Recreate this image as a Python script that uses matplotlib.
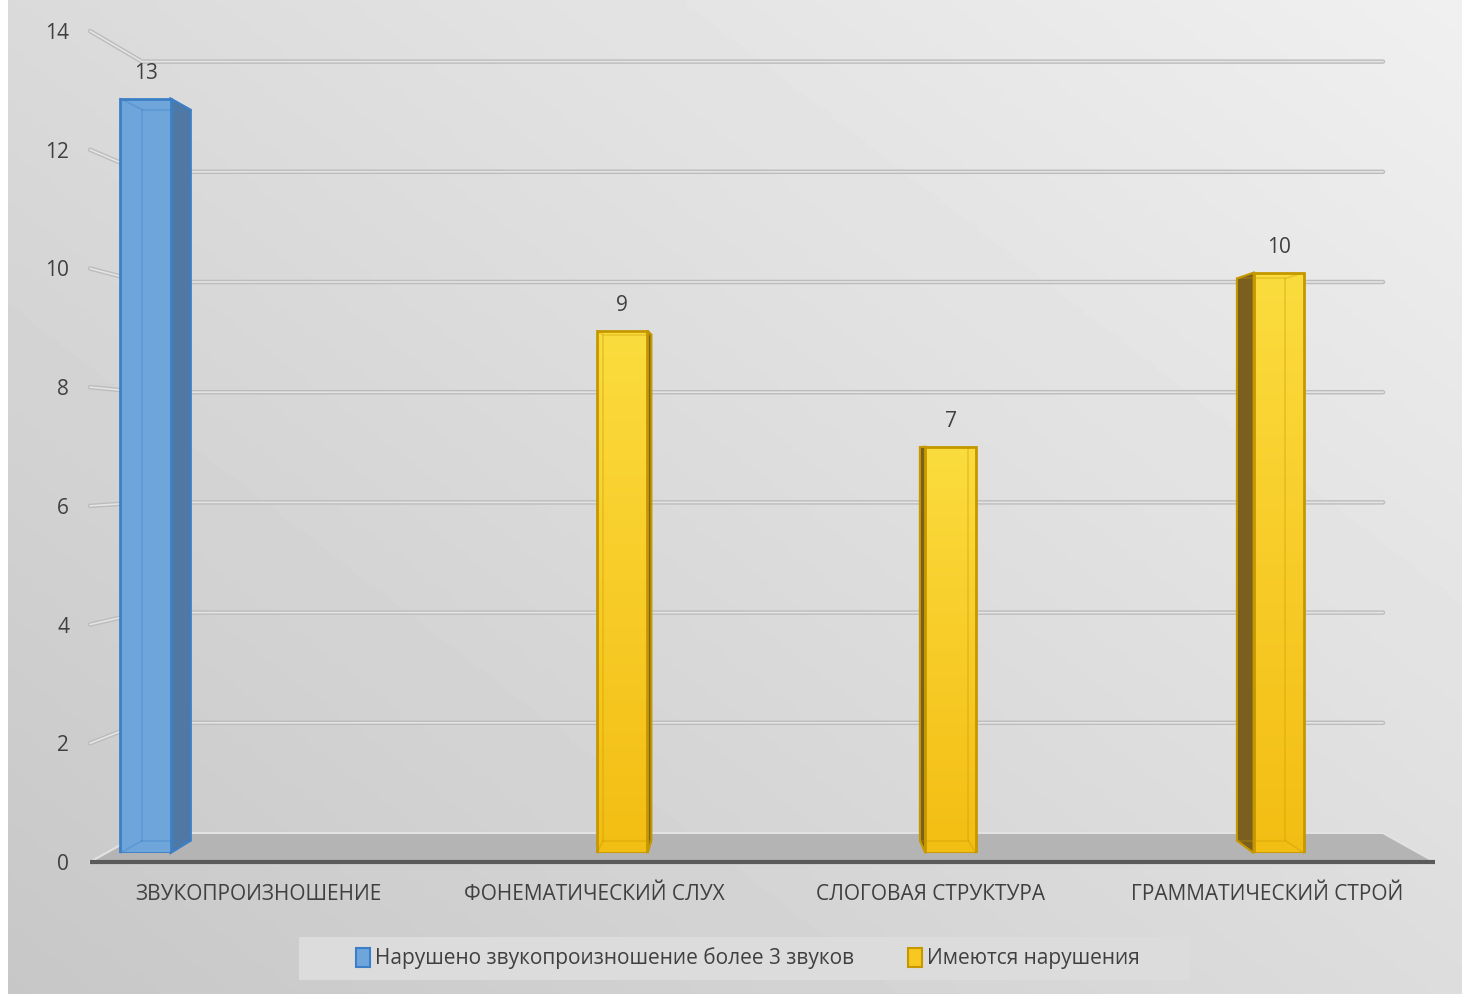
import numpy as np
import matplotlib.pyplot as plt
from matplotlib.patches import Polygon, Rectangle, Patch
from matplotlib.colors import LinearSegmentedColormap

# data
categories = ['ЗВУКОПРОИЗНОШЕНИЕ', 'ФОНЕМАТИЧЕСКИЙ СЛУХ', 'СЛОГОВАЯ СТРУКТУРА', 'ГРАММАТИЧЕСКИЙ СТРОЙ']
series_names = ['Нарушено звукопроизношение более 3 звуков', 'Имеются нарушения']
blue_values = [13, np.nan, np.nan, np.nan]
yellow_values = [np.nan, 9, 7, 10]
y_ticks = [0, 2, 4, 6, 8, 10, 12, 14]

plt.rcParams['font.family'] = ['Open Sans', 'DejaVu Sans']

W, H, DPI = 1462, 994, 100
fig = plt.figure(figsize=(W / DPI, H / DPI), dpi=DPI, facecolor='white')

# background gradient (light top-right, darker bottom-left)
bg = fig.add_axes([8 / W, 0, 1 - 8 / W, 1], zorder=0)
gx, gy = np.meshgrid(np.linspace(0, 1, 300), np.linspace(0, 1, 300))
shade = 0.855 + 0.085 * gx - 0.075 * gy
bg.imshow(shade, cmap='gray', vmin=0, vmax=1, extent=[0, 1, 0, 1], aspect='auto', origin='upper')
bg.axis('off')

# perspective planes: front (z=0) and back wall (z=1), in pixel layout
FRONT = (90, 1435, 862, 31)
BACK = (142, 1383, 833, 61.6)
Z0, Z1 = 0.31, 0.74      # bar front / back depth
BAR_W = 0.153
OFFSETS = [-0.38, 0.073]


def plane(z, zorder):
    x0, x1, y0, y14 = [f + z * (b - f) for f, b in zip(FRONT, BACK)]
    ax = fig.add_axes([x0 / W, 1 - y0 / H, (x1 - x0) / W, (y0 - y14) / H], zorder=zorder)
    ax.set_xlim(-0.5, 3.5)
    ax.set_ylim(0, 14)
    ax.patch.set_visible(False)
    for s in ax.spines.values():
        s.set_visible(False)
    return ax


axb = plane(1.0, 1)
axb.set_xticks([])
axb.set_yticks([])

lay = fig.add_axes([0, 0, 1, 1], zorder=2)
lay.set_xlim(0, W)
lay.set_ylim(0, H)
lay.axis('off')
lay.patch.set_visible(False)

axm = plane(Z0, 3)
axm.set_xticks([])
axm.set_yticks([])

lay2 = fig.add_axes([0, 0, 1, 1], zorder=3.5)
lay2.set_xlim(0, W)
lay2.set_ylim(0, H)
lay2.axis('off')
lay2.patch.set_visible(False)

axf = plane(0.0, 4)


def P(x, y, z):
    pf = axf.transData.transform((x, y))
    pb = axb.transData.transform((x, y))
    return lay.transData.inverted().transform((1 - z) * pf + z * pb)


# floor
floor = [P(-0.5, 0, 0), P(3.5, 0, 0), P(3.5, 0, 1), P(-0.5, 0, 1)]
lay.add_patch(Polygon(floor, closed=True, facecolor='#b4b4b4', edgecolor='none', zorder=1))
for a, b in [(floor[0], floor[3]), (floor[3], floor[2]), (floor[2], floor[1])]:
    lay.plot([a[0], b[0]], [a[1], b[1]], color='#e2e2e2', lw=1.5, solid_capstyle='round', zorder=1.5)

# gridlines: side-wall connectors and back-wall lines
for t in y_ticks[1:]:
    pts = np.array([P(-0.5, t, 0), P(-0.5, t, 1), P(3.5, t, 1)])
    lay.plot(pts[:, 0], pts[:, 1], color='#bcbcbc', lw=3.2, solid_capstyle='round',
             solid_joinstyle='round', zorder=2)
    lay.plot(pts[:, 0], pts[:, 1], color='#e4e4e4', lw=1.2, solid_capstyle='round',
             solid_joinstyle='round', zorder=2.1)

# front floor edge
axf.plot([-0.5, 3.5], [0, 0], color='#5a5a5a', lw=3, clip_on=False, solid_capstyle='butt')

yellow_cmap = LinearSegmentedColormap.from_list('yel', ['#f3be14', '#f8cc28', '#fbdc3e'])
styles = [
    dict(face='#6ea6db', edge='#3d7fc6', side='#4f78a3', cmap=None),
    dict(face='#f7c820', edge='#c59800', side='#7a5f1e', cmap=yellow_cmap),
]

for values, off, st in zip([blue_values, yellow_values], OFFSETS, styles):
    for i, v in enumerate(values):
        if np.isnan(v):
            continue
        xc = i + off
        x0, x1 = xc - BAR_W / 2, xc + BAR_W / 2
        # visible side face
        if P(x1, v, Z1)[0] > P(x1, v, Z0)[0]:
            xs = x1
        else:
            xs = x0
        side = [P(xs, 0, Z0), P(xs, v, Z0), P(xs, v, Z1), P(xs, 0, Z1)]
        lay.add_patch(Polygon(side, closed=True, facecolor=st['side'], edgecolor=st['edge'],
                              lw=1.5, zorder=5))
        # front face
        bars = axm.bar(xc, v, width=BAR_W, color=st['face'], edgecolor='none', zorder=1)
        if st['cmap'] is not None:
            grad = np.linspace(0, 1, 100).reshape(-1, 1)
            im = axm.imshow(grad, cmap=st['cmap'], extent=[x0, x1, 0, v], origin='lower',
                            aspect='auto', zorder=2)
            im.set_clip_path(bars[0])
        axm.bar(xc, v, width=BAR_W, facecolor='none', edgecolor=st['edge'], lw=2, zorder=3)
        # see-through back edges
        back = np.array([P(x0, 0, Z1), P(x0, v, Z1), P(x1, v, Z1), P(x1, 0, Z1), P(x0, 0, Z1)])
        lay2.plot(back[:, 0], back[:, 1], color=st['edge'], lw=1.2, alpha=0.35)
        for xx in (x0, x1):
            for yy in (0, v):
                a, b = P(xx, yy, Z0), P(xx, yy, Z1)
                lay2.plot([a[0], b[0]], [a[1], b[1]], color=st['edge'], lw=1.2, alpha=0.35)
        axm.annotate(f'{v:g}', (xc, v), xytext=(0, 18), textcoords='offset points',
                     ha='center', va='center', fontsize=15, color='#404040')

axm.set_xlim(-0.5, 3.5)
axm.set_ylim(0, 14)
axf.set_xlim(-0.5, 3.5)
axf.set_ylim(0, 14)

# axis labels on the front plane
axf.set_yticks(y_ticks)
axf.set_yticklabels([str(t) for t in y_ticks])
axf.set_xticks(range(len(categories)))
axf.set_xticklabels(categories)
axf.tick_params(axis='y', length=0, pad=15, labelsize=15, labelcolor='#404040')
axf.tick_params(axis='x', length=0, pad=16, labelsize=15, labelcolor='#404040')

# legend
lay.add_patch(Rectangle((299, H - 980), 891, 43, facecolor='#dcdcdc', edgecolor='none'))
handles = [Patch(facecolor=styles[0]['face'], edgecolor=styles[0]['edge'], lw=1.5),
           Patch(facecolor=styles[1]['face'], edgecolor=styles[1]['edge'], lw=1.5)]
fig.legend(handles, series_names, loc='center', bbox_to_anchor=(748 / W, 1 - 958.5 / H),
           ncol=2, frameon=False, fontsize=15, handlelength=0.65, handleheight=1.0,
           handletextpad=0.25, columnspacing=2.6, labelcolor='#404040')

fig.savefig('out.png', dpi=DPI, facecolor=fig.get_facecolor())
